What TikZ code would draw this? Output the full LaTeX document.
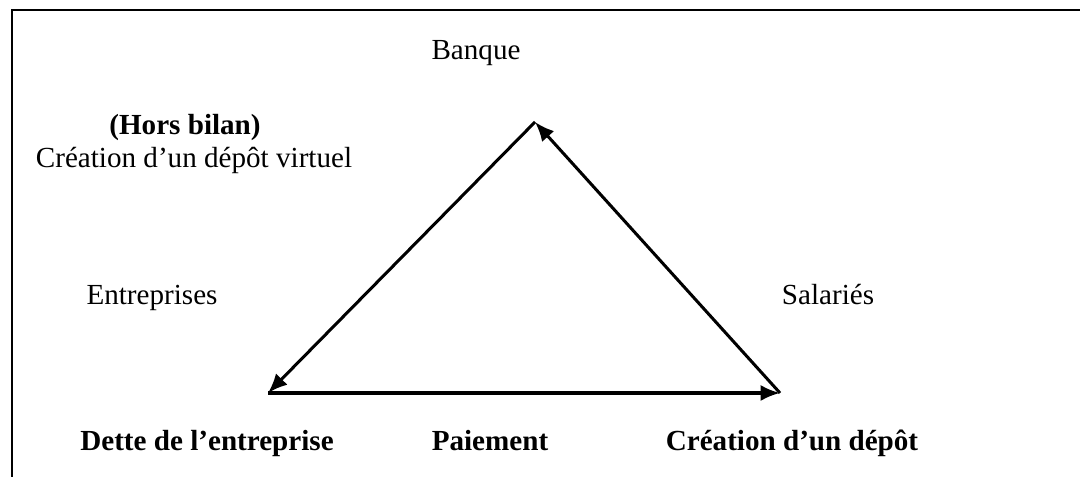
\documentclass[tikz,border=0pt]{standalone}
\usepackage{fontspec}
\setmainfont{Liberation Serif}
\usetikzlibrary{arrows.meta}

\begin{document}
\begin{tikzpicture}[x=0.0163cm,y=-0.0163cm]
\tikzstyle{label}=[inner sep=0pt,anchor=base,font=\fontsize{13.5}{16}\selectfont]
\tikzstyle{bold}=[label,font=\fontsize{13.5}{16}\selectfont\bfseries]
\tikzstyle{side}=[line width=1.4pt,-{Latex[length=9pt,width=7.5pt]}]
\useasboundingbox (0,0) rectangle (1080,477);
\clip (0,0) rectangle (1080,477);
\draw[line width=1.1pt] (12,10) rectangle (1100,500);
% corners of the triangle
\coordinate (bank) at (535,122);
\coordinate (firm) at (268,393);
\coordinate (wage) at (780,393);
% texts
\path (476,60) node[label](banque){Banque};
\path (185,135) node[bold](hors){(Hors bilan)} (194,168) node[label](virt){Création d’un dépôt virtuel};
\path (152,305) node[label](entr){Entreprises} (828,305) node[label](sal){Salariés};
\path (207,451) node[bold](dette){Dette de l’entreprise} (490,451) node[bold](paie){Paiement} (792,451) node[bold](depot){Création d’un dépôt};
% arrows
\draw[side] (bank) -- (firm);
\draw[side] (firm) -- (wage);
\draw[side] (wage) -- (bank);
\end{tikzpicture}
\end{document}
